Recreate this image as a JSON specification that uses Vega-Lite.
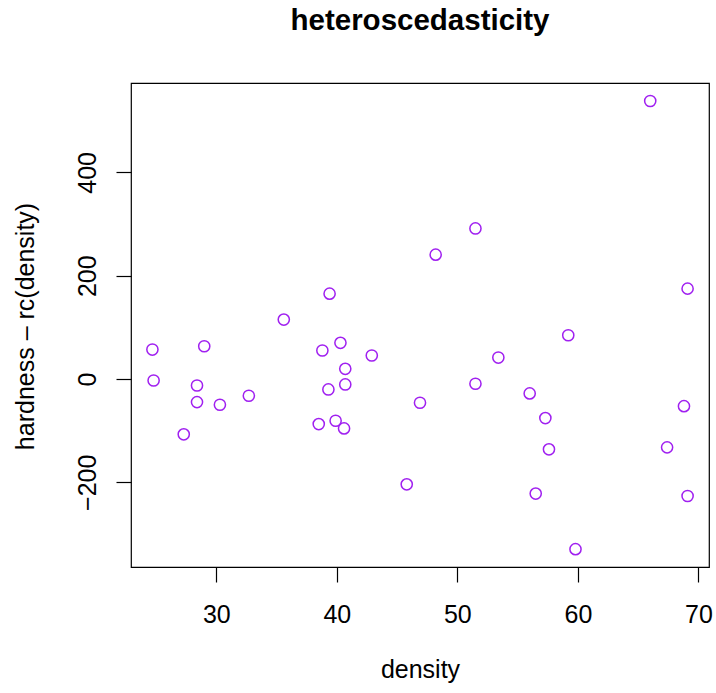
{
  "$schema": "https://vega.github.io/schema/vega-lite/v6.json",
  "width": 578,
  "height": 484,
  "autosize": {"type": "none"},
  "padding": {"left": 131, "top": 83, "right": 7, "bottom": 126},
  "background": "white",
  "title": {
    "text": "heteroscedasticity",
    "font": "Liberation Sans",
    "fontSize": 29.5,
    "fontWeight": "bold",
    "color": "black",
    "anchor": "middle",
    "baseline": "alphabetic",
    "offset": 24
  },
  "config": {
    "view": {"stroke": "black", "strokeWidth": 1.2},
    "axis": {
      "grid": false,
      "domain": false,
      "tickColor": "black",
      "tickWidth": 1.2,
      "tickSize": 15,
      "labelFont": "Liberation Sans",
      "labelFontSize": 25,
      "labelColor": "black",
      "titleFont": "Liberation Sans",
      "titleFontSize": 25,
      "titleFontWeight": "normal",
      "titleColor": "black"
    }
  },
  "data": {
    "values": [
      {"density": 24.7, "resid": 57.0},
      {"density": 24.8, "resid": -2.9},
      {"density": 27.3, "resid": -107.2},
      {"density": 28.4, "resid": -12.6},
      {"density": 28.4, "resid": -44.8},
      {"density": 29.0, "resid": 63.4},
      {"density": 30.3, "resid": -49.9},
      {"density": 32.7, "resid": -32.5},
      {"density": 35.6, "resid": 115.0},
      {"density": 38.5, "resid": -87.3},
      {"density": 38.8, "resid": 55.1},
      {"density": 39.3, "resid": -20.3},
      {"density": 39.4, "resid": 165.2},
      {"density": 39.9, "resid": -80.8},
      {"density": 40.3, "resid": 70.0},
      {"density": 40.6, "resid": -95.7},
      {"density": 40.7, "resid": 19.7},
      {"density": 40.7, "resid": -10.6},
      {"density": 42.9, "resid": 45.4},
      {"density": 45.8, "resid": -203.9},
      {"density": 46.9, "resid": -46.0},
      {"density": 48.2, "resid": 240.6},
      {"density": 51.5, "resid": 291.4},
      {"density": 51.5, "resid": -9.3},
      {"density": 53.4, "resid": 41.5},
      {"density": 56.0, "resid": -28.0},
      {"density": 56.5, "resid": -221.8},
      {"density": 57.3, "resid": -75.7},
      {"density": 57.6, "resid": -136.2},
      {"density": 59.2, "resid": 84.6},
      {"density": 59.8, "resid": -329.5},
      {"density": 66.0, "resid": 538.2},
      {"density": 67.4, "resid": -132.4},
      {"density": 68.8, "resid": -52.6},
      {"density": 69.1, "resid": 174.9},
      {"density": 69.1, "resid": -226.5}
    ]
  },
  "mark": {"type": "point", "shape": "circle", "filled": false, "color": "#A020F0", "size": 125, "strokeWidth": 1.5, "opacity": 1},
  "encoding": {
    "x": {
      "field": "density",
      "type": "quantitative",
      "scale": {"domain": [22.924, 70.876], "nice": false, "zero": false},
      "axis": {
        "title": "density",
        "values": [30, 40, 50, 60, 70],
        "labelBaseline": "alphabetic",
        "labelPadding": 40,
        "labelFlush": false,
        "labelOverlap": false,
        "titleBaseline": "alphabetic",
        "titleY": 110,
        "titleX": 289
      }
    },
    "y": {
      "field": "resid",
      "type": "quantitative",
      "scale": {"domain": [-364, 573], "nice": false, "zero": false},
      "axis": {
        "title": "hardness – rc(density)",
        "values": [-200, 0, 200, 400],
        "labelAngle": 270,
        "labelAlign": "center",
        "labelBaseline": "alphabetic",
        "labelPadding": 21,
        "labelFlush": false,
        "labelOverlap": false,
        "titleAngle": 270,
        "titleAlign": "center",
        "titleBaseline": "alphabetic",
        "titleX": -98,
        "titleY": 243
      }
    }
  }
}
